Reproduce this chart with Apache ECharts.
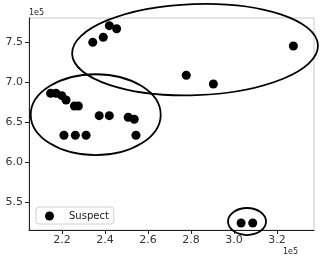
<!DOCTYPE html>
<html>
<head>
<meta charset="utf-8">
<script src="https://cdn.jsdelivr.net/npm/echarts@6/dist/echarts.min.js"></script>
<style>
html,body{margin:0;padding:0;background:#fff;}
#c{width:322px;height:257px;}
</style>
</head>
<body>
<div id="c"></div>
<script>
// Data (raw values; axis shows them scaled by 1e5)
var seriesName = 'Suspect';
var xValues = [234300, 239200, 242000, 245400, 327600, 277800, 290400,
  214700, 217200, 219900, 221900, 225800, 227600, 237300, 242000, 250800, 253600,
  220900, 226200, 231200, 254400, 303300, 308700];
var yValues = [749600, 755900, 770400, 766600, 745000, 708400, 697500,
  685900, 685900, 682900, 677500, 670000, 670000, 657900, 657900, 655900, 653400,
  633400, 633400, 633400, 633400, 523700, 523700];
var xTicks = [220000, 240000, 260000, 280000, 300000, 320000];
var yTicks = [550000, 600000, 650000, 700000, 750000];
var xRange = [204650, 337200];
var yRange = [515000, 780000];
// Annotation ellipses in data units: centre x, centre y, radius x, radius y, angle (rad)
var ellipseCx = [281860, 235670, 306050];
var ellipseCy = [740500, 659100, 525600];
var ellipseRx = [57200, 30230, 8840];
var ellipseRy = [57000, 50600, 16900];
var ellipseAngle = [0.035, 0, 0];

var points = xValues.map(function (x, i) { return [x, yValues[i]]; });
var FONT = 'DejaVu Sans';
var chart = echarts.init(document.getElementById('c'), null, {renderer: 'canvas'});
var fmt = function (v) { return (v / 1e5).toFixed(1); };

chart.setOption({
  animation: false,
  backgroundColor: '#fff',
  grid: {left: 29, top: 18, right: 8, bottom: 27, show: true, borderColor: '#c8c8c8', borderWidth: 1, backgroundColor: 'transparent'},
  xAxis: {
    type: 'value', min: xRange[0], max: xRange[1],
    splitLine: {show: false},
    axisLine: {show: true, onZero: false, lineStyle: {color: '#222', width: 1}},
    axisTick: {show: true, length: 4, customValues: xTicks, lineStyle: {color: '#222'}},
    axisLabel: {customValues: xTicks, formatter: fmt, fontFamily: FONT, fontSize: 11, color: '#333', margin: 5, showMinLabel: true, showMaxLabel: true}
  },
  yAxis: {
    type: 'value', min: yRange[0], max: yRange[1],
    splitLine: {show: false},
    axisLine: {show: true, onZero: false, lineStyle: {color: '#222', width: 1}},
    axisTick: {show: true, length: 4, customValues: yTicks, lineStyle: {color: '#222'}},
    axisLabel: {customValues: yTicks, formatter: fmt, fontFamily: FONT, fontSize: 11, color: '#333', margin: 6}
  },
  legend: {
    left: 36, top: 207,
    padding: [4, 5, 3, 9],
    itemWidth: 9, itemHeight: 9,
    icon: 'circle',
    backgroundColor: '#fff', borderColor: '#d0d0d0', borderWidth: 1, borderRadius: 3,
    formatter: function (n) { return '{a|' + n + '}'; },
    textStyle: {fontFamily: FONT, fontSize: 10, color: '#222',
      rich: {a: {fontFamily: FONT, fontSize: 10, color: '#222', padding: [0, 0, 0, 10]}}},
    data: [seriesName]
  },
  series: [{
    name: seriesName, type: 'scatter', data: points,
    symbol: 'circle', symbolSize: 9,
    itemStyle: {color: '#000', opacity: 1}
  }]
});

function drawAnnotations() {
  var els = [];
  for (var i = 0; i < ellipseCx.length; i++) {
    var c = chart.convertToPixel({gridIndex: 0}, [ellipseCx[i], ellipseCy[i]]);
    var ex = chart.convertToPixel({gridIndex: 0}, [ellipseCx[i] + ellipseRx[i], ellipseCy[i]]);
    var ey = chart.convertToPixel({gridIndex: 0}, [ellipseCx[i], ellipseCy[i] + ellipseRy[i]]);
    els.push({
      type: 'ellipse', z: 100,
      x: c[0], y: c[1], rotation: ellipseAngle[i],
      shape: {cx: 0, cy: 0, rx: Math.abs(ex[0] - c[0]), ry: Math.abs(c[1] - ey[1])},
      style: {fill: null, stroke: '#000', lineWidth: 1.8}
    });
  }
  els.push({type: 'text', left: 29, top: 9, style: {text: '1e5', font: '8px "DejaVu Sans"', fill: '#222'}});
  els.push({type: 'text', left: 283, top: 248, style: {text: '1e5', font: '8px "DejaVu Sans"', fill: '#222'}});
  chart.setOption({graphic: {elements: els}});
}
drawAnnotations();
</script>
</body>
</html>
